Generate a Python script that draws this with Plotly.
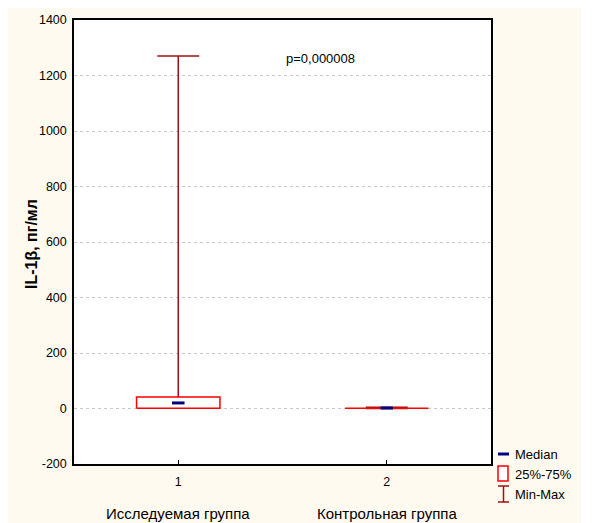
import plotly.graph_objects as go

# ---- data ----
groups = ["Исследуемая группа", "Контрольная группа"]
group_pos = [1, 2]
mins = [0.5, 0.3]
q1s = [0.5, 0.8]
medians = [20, 1.8]
q3s = [41, 2.6]
maxs = [1270, 4.5]
p_text = "p=0,000008"
y_ticks = [-200, 0, 200, 400, 600, 800, 1000, 1200, 1400]
y_ticktext = ["-200", "0", "200", "400", "600", "800", "1000", "1200", "1400"]
legend_labels = ["Median", "25%-75%", "Min-Max"]

BOX_HALF = 0.2
MED_HALF = 0.03
WHISK = "#a01010"
BOXC = "#ff0000"
MEDC = "#000080"
FONT = "Liberation Sans, Arial, sans-serif"

fig = go.Figure()

for i, xp in enumerate(group_pos):
    # whiskers (min-max) with caps
    fig.add_trace(go.Scatter(
        x=[xp], y=[medians[i]], mode="markers",
        marker=dict(size=1, opacity=0),
        error_y=dict(type="data", symmetric=False,
                     array=[maxs[i] - medians[i]],
                     arrayminus=[medians[i] - mins[i]],
                     color=WHISK, thickness=1.5, width=21),
        showlegend=False, hoverinfo="skip"))
    # box 25%-75%
    fig.add_trace(go.Scatter(
        x=[xp - BOX_HALF, xp + BOX_HALF, xp + BOX_HALF, xp - BOX_HALF, xp - BOX_HALF],
        y=[q1s[i], q1s[i], q3s[i], q3s[i], q1s[i]],
        mode="lines", fill="toself", fillcolor="white",
        line=dict(color=BOXC, width=1.5),
        showlegend=False, hoverinfo="skip"))
    # median
    fig.add_trace(go.Scatter(
        x=[xp - MED_HALF, xp + MED_HALF], y=[medians[i], medians[i]],
        mode="lines", line=dict(color=MEDC, width=3),
        showlegend=False, hoverinfo="skip"))

# page offset (body margin) and plot-area geometry in screenshot px
OFF = 8
W, H = 581 - OFF, 523 - OFF
L, R, T, B = 74 - OFF, 491 - OFF, 20 - OFF, 464 - OFF
pw, ph = R - L, B - T

def px_x(x):
    return (x - OFF - L) / pw

def px_y(y):
    return (B - (y - OFF)) / ph

shapes = [
    # legend: median dash
    dict(type="line", xref="paper", yref="paper",
         x0=px_x(498), x1=px_x(509), y0=px_y(454), y1=px_y(454),
         line=dict(color=MEDC, width=3)),
    # legend: box square
    dict(type="rect", xref="paper", yref="paper",
         x0=px_x(498), x1=px_x(508), y0=px_y(481), y1=px_y(466),
         line=dict(color=BOXC, width=1.5), fillcolor="white"),
    # legend: min-max I-beam
    dict(type="line", xref="paper", yref="paper",
         x0=px_x(503.5), x1=px_x(503.5), y0=px_y(486), y1=px_y(502),
         line=dict(color=WHISK, width=1.5)),
    dict(type="line", xref="paper", yref="paper",
         x0=px_x(498), x1=px_x(509), y0=px_y(486), y1=px_y(486),
         line=dict(color=WHISK, width=1.5)),
    dict(type="line", xref="paper", yref="paper",
         x0=px_x(498), x1=px_x(509), y0=px_y(502), y1=px_y(502),
         line=dict(color=WHISK, width=1.5)),
]

annotations = []
leg_y = [454, 474, 494]
for lab, yy in zip(legend_labels, leg_y):
    annotations.append(dict(xref="paper", yref="paper", x=px_x(513), y=px_y(yy),
                            text=lab, showarrow=False, xanchor="left", yanchor="middle",
                            font=dict(family=FONT, size=13, color="black")))
for g, xp in zip(groups, group_pos):
    annotations.append(dict(xref="x", yref="paper", x=xp, y=px_y(513),
                            text=g, showarrow=False, xanchor="center", yanchor="middle",
                            font=dict(family=FONT, size=15, color="black")))
annotations.append(dict(xref="paper", yref="paper", x=px_x(32), y=px_y(244),
                        text="<b>IL-1β, пг/мл</b>", textangle=-90, showarrow=False,
                        xanchor="center", yanchor="middle",
                        font=dict(family=FONT, size=16, color="black")))
annotations.append(dict(xref="x", yref="y", x=1.68, y=1263, text=p_text,
                        showarrow=False, xanchor="center", yanchor="middle",
                        font=dict(family=FONT, size=13, color="black")))

fig.update_layout(
    width=W, height=H,
    margin=dict(l=L, r=W - R, t=T, b=H - B, pad=0, autoexpand=False),
    paper_bgcolor="#fffaef", plot_bgcolor="white",
    showlegend=False,
    shapes=shapes, annotations=annotations,
    font=dict(family=FONT, size=12.5, color="black"),
)
fig.update_xaxes(range=[0.5, 2.5], tickmode="array", tickvals=group_pos,
                 ticktext=[str(p) for p in group_pos], automargin=False,
                 showgrid=False, zeroline=False, showline=True, linecolor="black",
                 linewidth=1.5, mirror=True, ticks="inside", ticklen=4,
                 tickcolor="black", ticklabelstandoff=5,
                 tickfont=dict(family=FONT, size=12.5))
fig.update_yaxes(range=[-200, 1400], tickmode="array", tickvals=y_ticks,
                 ticktext=y_ticktext, automargin=False,
                 showgrid=True, gridcolor="#c8c8c8", griddash="dot", gridwidth=1,
                 zeroline=False, showline=True, linecolor="black", linewidth=1.5,
                 mirror=True, ticks="outside", ticklen=3, tickcolor="rgba(0,0,0,0)",
                 tickfont=dict(family=FONT, size=12.5))

fig.write_html("out.html")
